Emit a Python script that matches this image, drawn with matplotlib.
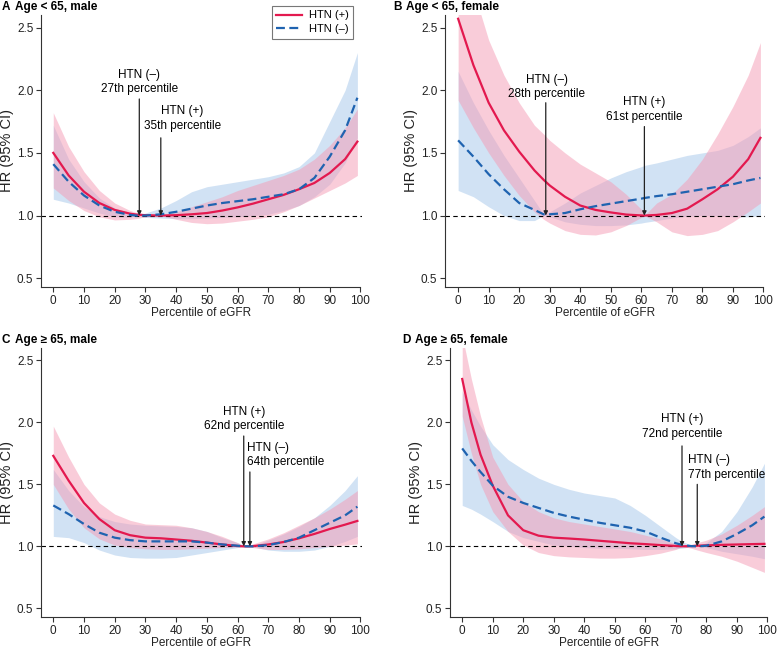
import matplotlib
matplotlib.use("Agg")
import matplotlib.pyplot as plt

plt.rcParams['font.family'] = ['Liberation Sans', 'DejaVu Sans']
plt.rcParams['font.size'] = 8.5

RED = '#E3194F'
BLUE = '#1F63B0'
RED_FILL = '#F59AB4'
BLUE_FILL = '#A4C6EA'

# ---- panel A: age < 65, male ----
x_a = [0, 5, 10, 15, 20, 25, 27, 30, 35, 40, 45, 50, 55, 60, 65, 70, 75, 80, 85, 90, 95, 99]
pos_a = [1.50, 1.32, 1.19, 1.10, 1.045, 1.015, 1.008, 1.003, 1.0, 1.003, 1.01, 1.02, 1.04, 1.065, 1.095, 1.13, 1.165, 1.21, 1.26, 1.34, 1.45, 1.59]
pos_a_hi = [1.82, 1.55, 1.35, 1.20, 1.10, 1.04, 1.025, 1.012, 1.0, 1.03, 1.07, 1.11, 1.15, 1.20, 1.24, 1.28, 1.32, 1.37, 1.45, 1.56, 1.70, 1.85]
pos_a_lo = [1.22, 1.12, 1.04, 0.99, 0.965, 0.97, 0.975, 0.99, 1.0, 0.97, 0.945, 0.935, 0.94, 0.955, 0.97, 0.99, 1.03, 1.08, 1.14, 1.20, 1.26, 1.32]
neg_a = [1.41, 1.27, 1.16, 1.08, 1.03, 1.005, 1.0, 1.0, 1.01, 1.03, 1.055, 1.08, 1.10, 1.115, 1.13, 1.15, 1.17, 1.21, 1.30, 1.47, 1.68, 1.94]
neg_a_hi = [1.72, 1.45, 1.27, 1.14, 1.06, 1.02, 1.0, 1.02, 1.06, 1.12, 1.19, 1.23, 1.25, 1.27, 1.29, 1.31, 1.34, 1.39, 1.50, 1.75, 2.0, 2.3]
neg_a_lo = [1.13, 1.10, 1.06, 1.02, 0.99, 0.985, 1.0, 0.985, 0.98, 0.975, 0.975, 0.98, 0.985, 0.99, 1.0, 1.01, 1.04, 1.08, 1.15, 1.25, 1.42, 1.62]

# ---- panel B: age < 65, female ----
x_b = [0, 5, 10, 15, 20, 25, 28, 30, 35, 40, 45, 50, 55, 60, 61, 65, 70, 75, 80, 85, 90, 95, 99]
pos_b = [2.57, 2.2, 1.9, 1.68, 1.51, 1.36, 1.285, 1.24, 1.15, 1.08, 1.045, 1.025, 1.008, 1.001, 1.0, 1.005, 1.02, 1.055, 1.13, 1.21, 1.31, 1.45, 1.62]
pos_b_hi = [3.0, 2.8, 2.4, 2.12, 1.9, 1.72, 1.65, 1.6, 1.5, 1.41, 1.34, 1.27, 1.17, 1.05, 1.0, 1.1, 1.17, 1.29, 1.45, 1.65, 1.87, 2.12, 2.38]
pos_b_lo = [1.92, 1.7, 1.5, 1.32, 1.16, 1.03, 0.97, 0.94, 0.88, 0.85, 0.845, 0.87, 0.92, 0.985, 1.0, 0.95, 0.87, 0.84, 0.85, 0.88, 0.95, 1.03, 1.1]
neg_b = [1.60, 1.47, 1.33, 1.21, 1.10, 1.045, 1.01, 1.01, 1.02, 1.05, 1.075, 1.095, 1.115, 1.135, 1.14, 1.155, 1.17, 1.19, 1.21, 1.23, 1.25, 1.28, 1.30]
neg_b_hi = [2.15, 1.9, 1.68, 1.48, 1.3, 1.12, 1.01, 1.03, 1.1, 1.18, 1.24, 1.3, 1.35, 1.39, 1.40, 1.42, 1.45, 1.48, 1.5, 1.52, 1.56, 1.63, 1.70]
neg_b_lo = [1.2, 1.15, 1.07, 1.0, 0.96, 0.96, 1.0, 0.99, 0.95, 0.93, 0.92, 0.92, 0.925, 0.94, 0.945, 0.96, 0.98, 0.995, 1.0, 1.0, 0.99, 0.99, 1.0]

# ---- panel C: age >= 65, male ----
x_c = [0, 5, 10, 15, 20, 25, 30, 35, 40, 45, 50, 55, 60, 62, 64, 65, 70, 75, 80, 85, 90, 95, 99]
pos_c = [1.73, 1.53, 1.35, 1.22, 1.13, 1.09, 1.07, 1.065, 1.055, 1.045, 1.03, 1.015, 1.003, 1.0, 1.0, 1.002, 1.015, 1.035, 1.065, 1.10, 1.14, 1.175, 1.205]
pos_c_hi = [1.97, 1.72, 1.5, 1.35, 1.26, 1.21, 1.18, 1.175, 1.17, 1.15, 1.12, 1.08, 1.03, 1.0, 1.01, 1.02, 1.06, 1.11, 1.17, 1.23, 1.3, 1.38, 1.45]
pos_c_lo = [1.5, 1.3, 1.15, 1.06, 1.01, 0.99, 0.98, 0.975, 0.975, 0.98, 0.985, 0.99, 0.995, 1.0, 0.995, 0.99, 0.975, 0.975, 0.98, 0.99, 1.0, 1.01, 1.02]
neg_c = [1.33, 1.26, 1.18, 1.11, 1.07, 1.05, 1.04, 1.04, 1.04, 1.04, 1.03, 1.015, 1.005, 1.001, 1.0, 1.0, 1.01, 1.035, 1.07, 1.13, 1.19, 1.25, 1.32]
neg_c_hi = [1.62, 1.45, 1.32, 1.24, 1.2, 1.18, 1.17, 1.165, 1.16, 1.15, 1.12, 1.07, 1.03, 1.01, 1.0, 1.005, 1.05, 1.1, 1.16, 1.23, 1.33, 1.45, 1.57]
neg_c_lo = [1.08, 1.07, 1.03, 0.97, 0.93, 0.91, 0.905, 0.905, 0.91, 0.93, 0.95, 0.97, 0.99, 0.995, 1.0, 0.995, 0.97, 0.96, 0.96, 0.97, 1.0, 1.04, 1.08]

# ---- panel D: age >= 65, female ----
x_d = [0, 3, 6, 10, 15, 20, 25, 30, 35, 40, 45, 50, 55, 60, 65, 70, 72, 75, 77, 80, 85, 90, 95, 99]
pos_d = [2.35, 2.0, 1.74, 1.49, 1.25, 1.13, 1.086, 1.07, 1.063, 1.055, 1.045, 1.035, 1.025, 1.018, 1.01, 1.003, 1.0, 1.002, 1.005, 1.008, 1.012, 1.015, 1.018, 1.02]
pos_d_hi = [2.7, 2.35, 2.05, 1.72, 1.5, 1.36, 1.28, 1.23, 1.2, 1.18, 1.16, 1.14, 1.12, 1.09, 1.06, 1.02, 1.0, 1.01, 1.03, 1.05, 1.1, 1.17, 1.25, 1.32]
pos_d_lo = [2.05, 1.75, 1.5, 1.28, 1.12, 1.01, 0.95, 0.925, 0.915, 0.91, 0.905, 0.905, 0.91, 0.925, 0.945, 0.975, 1.0, 0.985, 0.97, 0.95, 0.92, 0.88, 0.83, 0.79]
neg_d = [1.79, 1.69, 1.6, 1.49, 1.40, 1.35, 1.31, 1.27, 1.24, 1.215, 1.19, 1.17, 1.15, 1.12, 1.07, 1.025, 1.012, 1.002, 1.0, 1.005, 1.04, 1.1, 1.17, 1.24]
neg_d_hi = [2.25, 2.1, 1.97, 1.82, 1.7, 1.62, 1.55, 1.5, 1.46, 1.43, 1.41, 1.39, 1.33, 1.25, 1.16, 1.07, 1.04, 1.01, 1.0, 1.03, 1.12, 1.28, 1.48, 1.67]
neg_d_lo = [1.33, 1.3, 1.26, 1.2, 1.12, 1.07, 1.04, 1.01, 1.0, 0.99, 0.985, 0.985, 0.98, 0.975, 0.975, 0.98, 0.985, 0.995, 1.0, 0.99, 0.96, 0.94, 0.92, 0.90]

letters = ['A', 'B', 'C', 'D']
titles = ['Age < 65, male', 'Age < 65, female', 'Age \u2265 65, male', 'Age \u2265 65, female']
x_ticks = list(range(0, 101, 10))
y_ticks = [0.5, 1.0, 1.5, 2.0, 2.5]

# annotation: text, arrow x, arrow top, text x, text y, alignment
notes = [
    [('HTN (\u2013)\n27th percentile', 28, 1.93, 28, 1.96, 'center'),
     ('HTN (+)\n35th percentile', 35, 1.62, 42, 1.67, 'center')],
    [('HTN (\u2013)\n28th percentile', 28.7, 1.90, 29, 1.92, 'center'),
     ('HTN (+)\n61st percentile', 61, 1.71, 61, 1.74, 'center')],
    [('HTN (+)\n62nd percentile', 62, 1.89, 62, 1.92, 'center'),
     ('HTN (\u2013)\n64th percentile', 64, 1.60, 63.2, 1.63, 'left')],
    [('HTN (+)\n72nd percentile', 72, 1.81, 72, 1.86, 'center'),
     ('HTN (\u2013)\n77th percentile', 77, 1.50, 74, 1.53, 'left')],
]

panels = [
    (x_a, pos_a, pos_a_lo, pos_a_hi, neg_a, neg_a_lo, neg_a_hi),
    (x_b, pos_b, pos_b_lo, pos_b_hi, neg_b, neg_b_lo, neg_b_hi),
    (x_c, pos_c, pos_c_lo, pos_c_hi, neg_c, neg_c_lo, neg_c_hi),
    (x_d, pos_d, pos_d_lo, pos_d_hi, neg_d, neg_d_lo, neg_d_hi),
]

W, H = 778, 651
fig = plt.figure(figsize=(W / 100, H / 100), dpi=100)

# axes boxes in pixels: left, top, right, bottom
boxes = [(41, 15, 362, 287), (445, 15, 765, 287), (41, 348, 362, 617), (450, 348, 769, 617)]
xlims = [(-4, 100.5), (-4.3, 100.5), (-4, 100.5), (-4, 100.5)]
title_pos = [(2, 7), (393, 7), (2, 340), (402, 340)]

for i, (xs, p, plo, phi, n, nlo, nhi) in enumerate(panels):
    l, t, r, b = boxes[i]
    ax = fig.add_axes([l / W, 1 - b / H, (r - l) / W, (b - t) / H])
    ax.fill_between(xs, nlo, nhi, color=BLUE_FILL, alpha=0.5, lw=0)
    ax.fill_between(xs, plo, phi, color=RED_FILL, alpha=0.5, lw=0)
    ax.axhline(1.0, color='black', lw=0.8, ls=(0, (4, 3)))
    ax.plot(xs, p, color=RED, lw=1.6, label='HTN (+)')
    ax.plot(xs, n, color=BLUE, lw=1.6, ls=(0, (4, 2)), label='HTN (\u2013)')

    for txt, ax_x, top, tx, ty, ha in notes[i]:
        ax.annotate('', xy=(ax_x, 1.0), xytext=(ax_x, top),
                    arrowprops=dict(arrowstyle='-|>', color='#222222', lw=0.9,
                                    mutation_scale=6, shrinkA=0, shrinkB=0))
        ax.text(tx, ty, txt, ha=ha, va='bottom', fontsize=8.5, linespacing=1.3,
                multialignment='center' if ha == 'center' else 'left')

    ax.set_xlim(*xlims[i])
    ax.set_ylim(0.43, 2.6)
    ax.set_xticks(x_ticks)
    ax.set_yticks(y_ticks)
    ax.set_yticklabels([f'{v:.1f}' for v in y_ticks])
    ax.spines['top'].set_visible(False)
    ax.spines['right'].set_visible(False)
    ax.spines['left'].set_color('#333333')
    ax.spines['bottom'].set_color('#333333')
    ax.spines['bottom'].set_bounds(xlims[i][0], 100)
    ax.tick_params(length=3.5, width=0.8, colors='#333333', labelsize=8.5, pad=2,
                   labelcolor='#222222')
    ax.set_xlabel('Percentile of eGFR', fontsize=8.5, labelpad=0, color='#222222')
    ax.set_ylabel('HR (95% CI)', fontsize=10.5, labelpad=2, color='#222222')

    tx, ty = title_pos[i]
    fig.text(tx / W, 1 - ty / H, letters[i], fontsize=8.5, fontweight='bold', va='center')
    fig.text((tx + 13) / W, 1 - ty / H, titles[i], fontsize=8.5, fontweight='bold', va='center')

    if i == 0:
        leg = ax.legend(loc='upper right', bbox_to_anchor=((353 - l) / (r - l), 1 + 9 / (b - t)),
                        borderaxespad=0, fontsize=8, frameon=True, fancybox=False,
                        edgecolor='#555555', handlelength=2.3, handletextpad=0.6,
                        borderpad=0.4, labelspacing=0.35)
        leg.get_frame().set_linewidth(0.8)

fig.savefig('out.png', dpi=100)
